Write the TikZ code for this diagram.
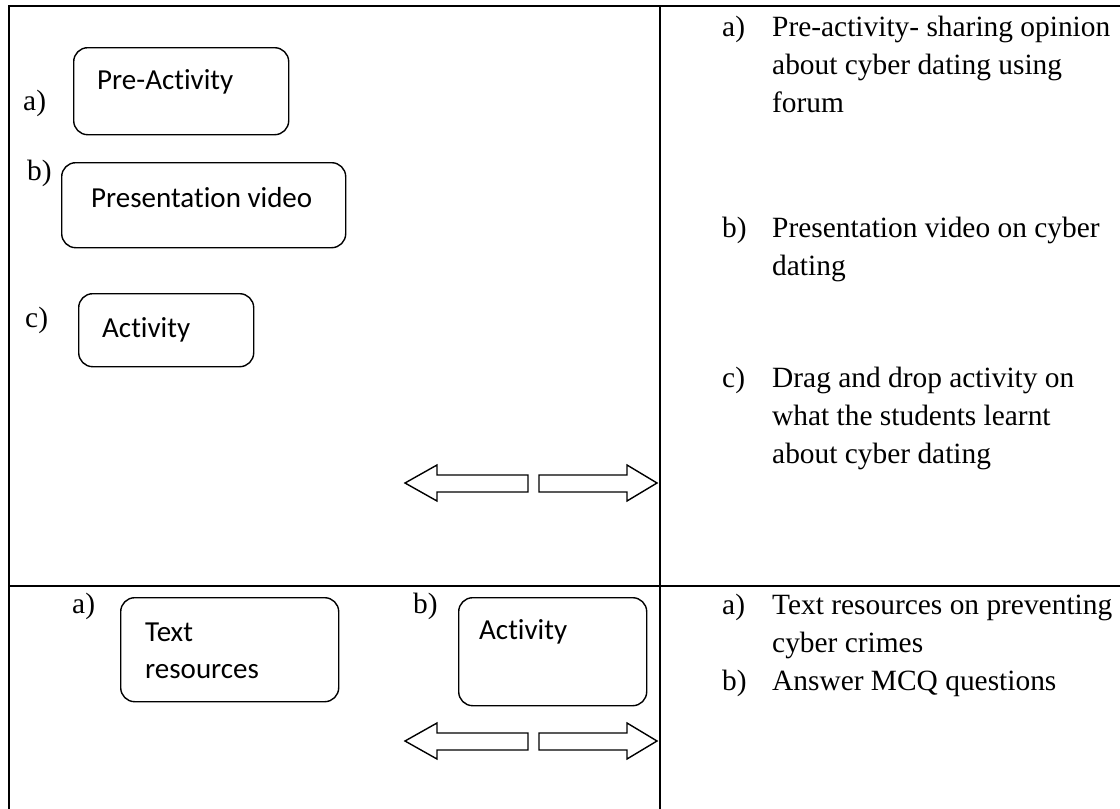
\documentclass[tikz,border=0pt]{standalone}
\usepackage{fontspec}
\setmainfont{Liberation Serif}
\newfontfamily\boxfont[RawFeature={-liga;-clig;-calt;-dlig}]{Carlito}
% keep "t" and "i" as separate glyphs in the box captions
\newcommand{\nolig}{\kern0pt{}}
\begin{document}
\begin{tikzpicture}[x=1pt,y=-1pt,
  rule/.style={line width=2.4pt},
  stagebox/.style={draw, line width=1.4pt, rounded corners=14pt, inner sep=0pt, anchor=north west},
  tag/.style={anchor=base west, inner sep=0pt, font=\fontsize{29.4}{35}\selectfont},
  boxtext/.style={anchor=base west, inner sep=0pt, font=\boxfont\fontsize{29}{35}\selectfont},
  blockarrow/.style={draw, line width=1.4pt, line join=miter}]
\useasboundingbox (0,0) rectangle (1120,809);

% table rules
\draw[rule] (9,6) -- (1120,6);
\draw[rule] (9,5) -- (9,809);
\draw[rule] (660,6) -- (660,809);
\draw[rule] (9,586) -- (1120,586);

% upper left cell: stages
\node[tag] (la) at (23,110) {a)};
\node[stagebox, minimum width=215, minimum height=87] (pre) at (73,47) {};
\node[boxtext] (pret) at (97,89) {Pre-Act\nolig ivity};

\node[tag] (lb) at (27,180) {b)};
\node[stagebox, minimum width=284, minimum height=85] (pres) at (61,162) {};
\node[boxtext] (prest) at (91,207) {Presentat\nolig ion video};

\node[tag] (lc) at (25,327) {c)};
\node[stagebox, minimum width=175, minimum height=73] (act) at (78,293) {};
\node[boxtext] (actt) at (102,337) {Act\nolig ivity};

% upper double block arrow
\draw[blockarrow] (405,483) -- (437,465) -- (437,475) -- (528,475) -- (528,492)
  -- (437,492) -- (437,501) -- cycle;
\draw[blockarrow] (657,483) -- (627,465) -- (627,475) -- (539,475) -- (539,492)
  -- (627,492) -- (627,501) -- cycle;

% upper right cell
\node[tag] (ra) at (722,36) {a)};
\node[tag] (ra1) at (772,36) {Pre-activity- sharing opinion};
\node[tag] (ra2) at (772,74) {about cyber dating using};
\node[tag] (ra3) at (772,112) {forum};
\node[tag] (rb) at (722,237) {b)};
\node[tag] (rb1) at (772,237) {Presentation video on cyber};
\node[tag] (rb2) at (772,275) {dating};
\node[tag] (rc) at (722,387) {c)};
\node[tag] (rc1) at (772,387) {Drag and drop activity on};
\node[tag] (rc2) at (772,425) {what the students learnt};
\node[tag] (rc3) at (772,463) {about cyber dating};

% lower left cell
\node[tag] (la2) at (72,613) {a)};
\node[stagebox, minimum width=218, minimum height=104] (txt) at (120,597) {};
\node[boxtext] (txt1) at (145,641) {Text};
\node[boxtext] (txt2) at (145,678) {resources};

\node[tag] (lb2) at (413,613) {b)};
\node[stagebox, minimum width=188, minimum height=108] (act2) at (458,597) {};
\node[boxtext] (act2t) at (479,639) {Act\nolig ivity};

% lower double block arrow
\draw[blockarrow] (405,741) -- (437,723) -- (437,733) -- (528,733) -- (528,750)
  -- (437,750) -- (437,759) -- cycle;
\draw[blockarrow] (657,741) -- (627,723) -- (627,733) -- (539,733) -- (539,750)
  -- (627,750) -- (627,759) -- cycle;

% lower right cell
\node[tag] (rd) at (722,614) {a)};
\node[tag] (rd1) at (772,614) {Text resources on preventing};
\node[tag] (rd2) at (772,652) {cyber crimes};
\node[tag] (re) at (722,690) {b)};
\node[tag] (re1) at (772,690) {Answer MCQ questions};
\end{tikzpicture}
\end{document}
